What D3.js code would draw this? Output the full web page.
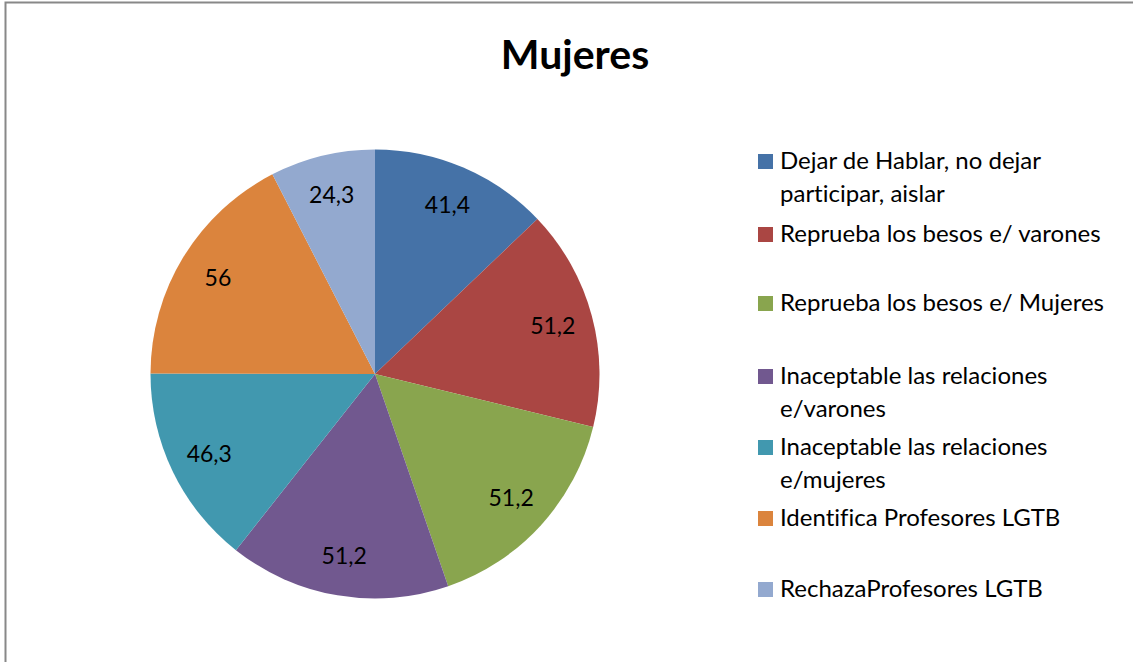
<!DOCTYPE html>
<html>
<head>
<meta charset="utf-8">
<script src="https://cdn.jsdelivr.net/npm/d3@7"></script>
<style>
  body { margin: 0; background: #fff; }
  text { font-family: Lato, "Open Sans", sans-serif; fill: #000; font-variant-ligatures: none; }
</style>
</head>
<body>
<div id="chart"></div>
<script>
// Data
var categories = [
    "Dejar de Hablar, no dejar participar, aislar",
    "Reprueba los besos e/ varones",
    "Reprueba los besos e/ Mujeres",
    "Inaceptable las relaciones e/varones",
    "Inaceptable las relaciones e/mujeres",
    "Identifica Profesores LGTB",
    "RechazaProfesores LGTB"
];
var values = [41.4, 51.2, 51.2, 51.2, 46.3, 56, 24.3];
var valueLabels = ["41,4", "51,2", "51,2", "51,2", "46,3", "56", "24,3"];
// legend text split into lines as shown
var legendLines = [
    ["Dejar de Hablar, no dejar", "participar, aislar"],
    ["Reprueba los besos e/ varones"],
    ["Reprueba los besos e/ Mujeres"],
    ["Inaceptable las relaciones", "e/varones"],
    ["Inaceptable las relaciones", "e/mujeres"],
    ["Identifica Profesores LGTB"],
    ["RechazaProfesores LGTB"]
];
var colors = ["#4572A7", "#AA4643", "#89A54E", "#71588F", "#4198AF", "#DB843D", "#93A9CF"];

var svgWidth = 1133, svgHeight = 662;

var svg = d3.select("#chart")
    .append("svg")
    .attr("width", svgWidth)
    .attr("height", svgHeight);

//Border (only top and left are visible in the picture)
svg.append("path")
    .attr("d", "M5.5,662 V2.5 H1133")
    .attr("fill", "none")
    .attr("stroke", "#888")
    .attr("stroke-width", 2);

//Title
svg.append("text")
    .attr("x", 575)
    .attr("y", 69)
    .attr("text-anchor", "middle")
    .style("font-size", "41px")
    .style("font-weight", "bold")
    .text("Mujeres");

//PIE
var cx = 375, cy = 374, radius = 224.5;
var pieGroup = svg.append("g")
    .attr("transform", `translate(${cx}, ${cy})`);

var pie = d3.pie().sort(null).value(d => d);
var arc = d3.arc().innerRadius(0).outerRadius(radius);
var labelArc = d3.arc().innerRadius(radius * 0.82).outerRadius(radius * 0.82);

var slices = pie(values);

pieGroup.selectAll("path")
    .data(slices)
    .enter()
    .append("path")
    .attr("d", arc)
    .attr("fill", (d, i) => colors[i]);

pieGroup.selectAll("text")
    .data(slices)
    .enter()
    .append("text")
    .attr("transform", d => `translate(${labelArc.centroid(d)})`)
    .attr("text-anchor", "middle")
    .attr("dy", "0.35em")
    .style("font-size", "23px")
    .text((d, i) => valueLabels[i]);

//LEGEND
var legendY = [161, 234, 303, 376, 447, 518, 589];
var legend = svg.append("g");

var items = legend.selectAll("g")
    .data(categories)
    .enter()
    .append("g")
    .attr("transform", (d, i) => `translate(758, ${legendY[i]})`);

items.append("rect")
    .attr("x", 0)
    .attr("y", -7)
    .attr("width", 15)
    .attr("height", 15)
    .attr("fill", (d, i) => colors[i]);

items.each(function(d, i) {
    var t = d3.select(this).append("text")
        .attr("x", 22)
        .attr("y", 0)
        .style("font-size", "24px");
    legendLines[i].forEach(function(line, j) {
        t.append("tspan")
            .attr("x", 22)
            .attr("dy", j === 0 ? "0.35em" : "33px")
            .text(line);
    });
});
</script>
</body>
</html>
